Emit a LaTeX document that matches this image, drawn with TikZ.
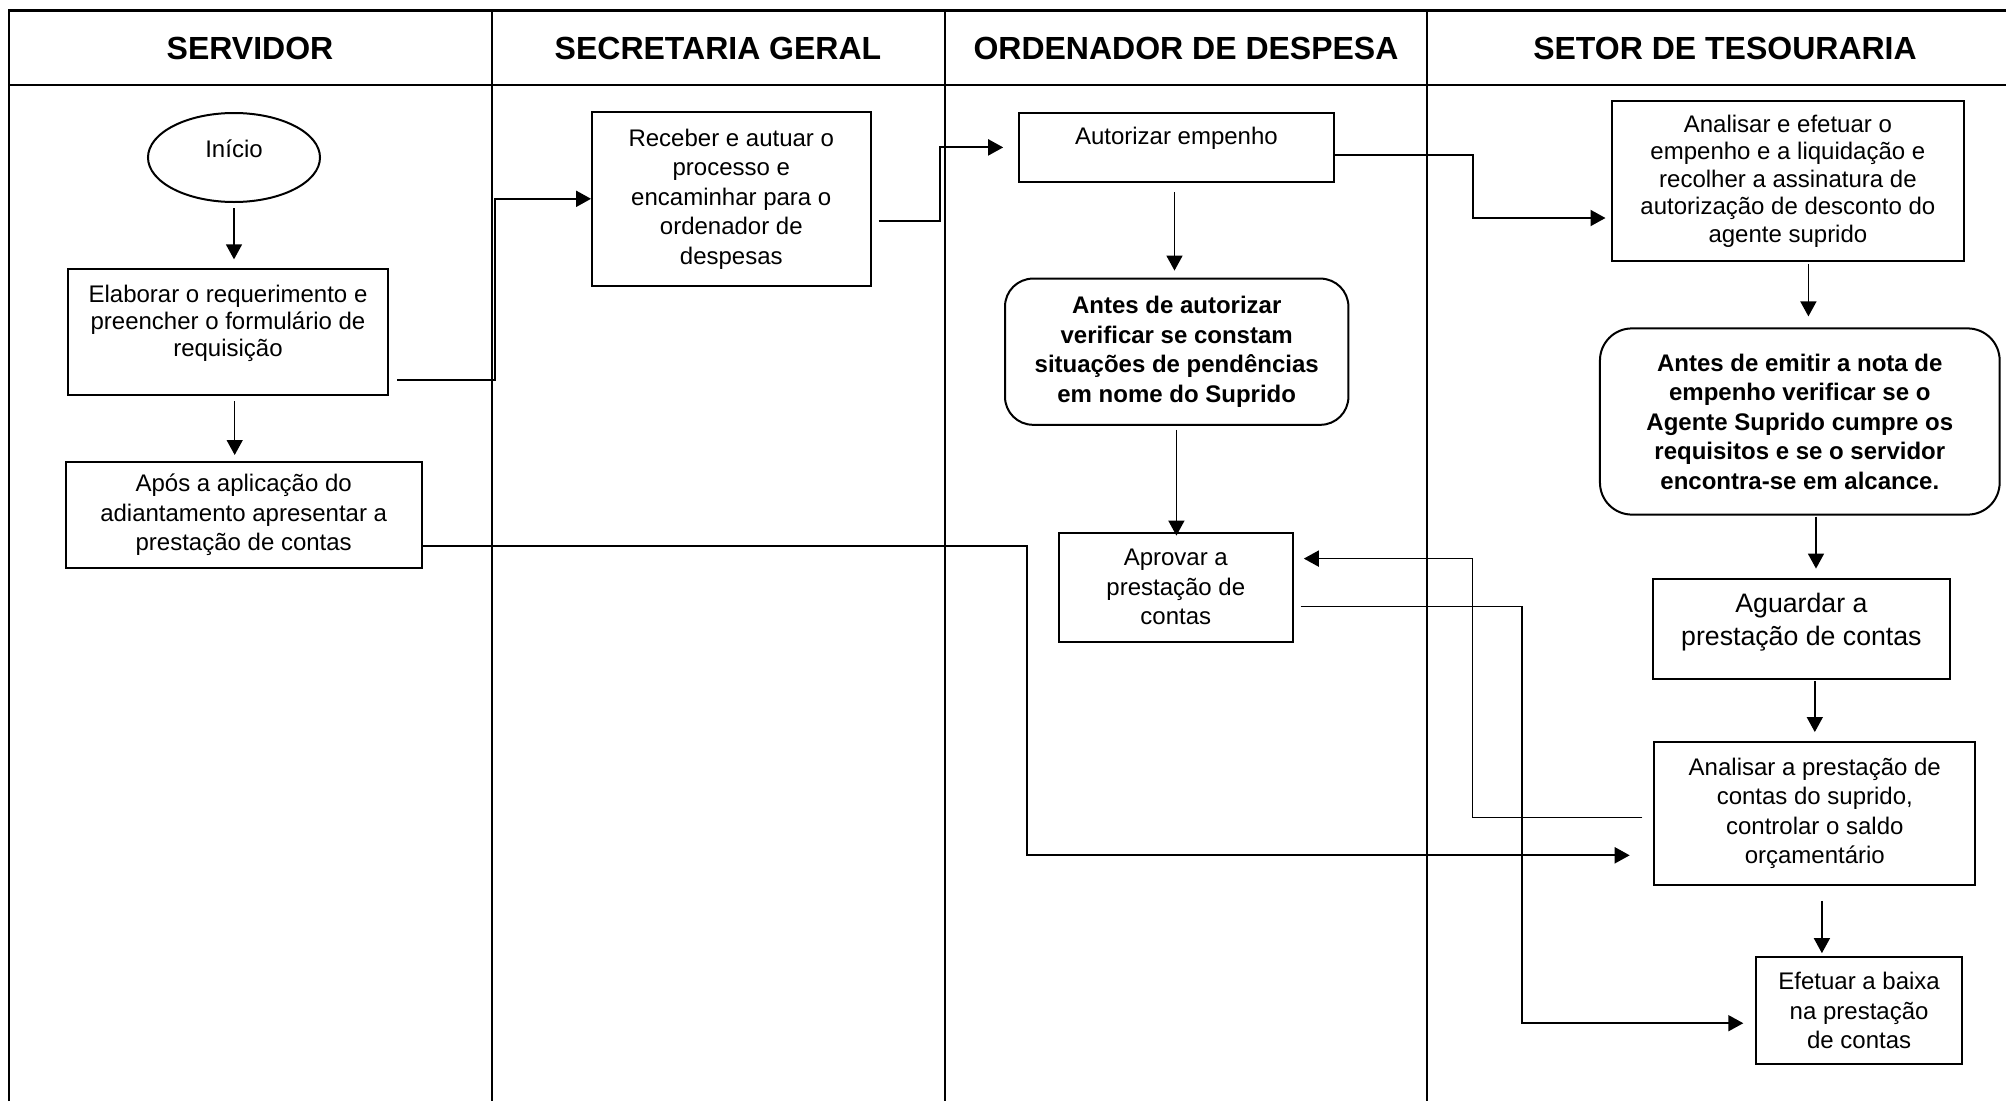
\documentclass[tikz,border=0pt]{standalone}
\usepackage{fontspec}
\setmainfont{Liberation Sans}
\usetikzlibrary{arrows.meta,shapes.geometric}
\tikzset{
  box/.style={draw, line width=2pt, rectangle, inner sep=0pt},
  rbox/.style={box, rounded corners=28pt},
  txt/.style={align=center, font=\fontsize{24}{29.5}\selectfont},
  btxt/.style={align=center, font=\bfseries\fontsize{24}{29.5}\selectfont},
  hdr/.style={font=\bfseries\fontsize{32}{38}\selectfont},
  arr/.style={line width=2pt, -{Triangle[length=15pt,width=16pt]}},
  varr/.style={arr, line width=1.5pt},
  laneline/.style={line width=2pt},
  frameline/.style={line width=2.6pt}
}
\begin{document}
\begin{tikzpicture}[x=1pt,y=-1pt]
\useasboundingbox (0,0) rectangle (2006,1101);
% frame and lanes
\draw[frameline] (9,1101) -- (9,10.7) -- (2006,10.7);
\draw[frameline] (9,85) -- (2006,85);
\foreach \xx in {492,944.5,1427} \draw[laneline] (\xx,10.7) -- (\xx,1101);
% headers
\node[hdr] (h1) at (250,48) {SERVIDOR};
\node[hdr] (h2) at (718,48) {SECRETARIA GERAL};
\node[hdr] (h3) at (1186,48) {ORDENADOR DE DESPESA};
\node[hdr] (h4) at (1725,48) {SETOR DE TESOURARIA};
% SERVIDOR
\node[draw, ellipse, line width=2pt, inner sep=0pt, minimum width=172pt, minimum height=89pt] (inicio) at (234,157.5) {};
\node[txt] (inicio-t) at ([yshift=9pt]inicio.center) {Início};
\node[box, minimum width=320.8pt, minimum height=125.9pt] (elab) at (228,332.3) {};
\node[align=center, font=\fontsize{24}{27}\selectfont] (elab-t) at ([yshift=9pt]elab.center) {Elaborar o requerimento e\\preencher o formulário de\\requisição};
\node[box, txt, minimum width=355.9pt, minimum height=106pt] (apos) at (243.7,515) {Após a aplicação do\\adiantamento apresentar a\\prestação de contas};
% SECRETARIA GERAL
\node[box, txt, minimum width=278.5pt, minimum height=173.5pt] (receber) at (731.3,198.8) {Receber e autuar o\\processo e\\encaminhar para o\\ordenador de\\despesas};
% ORDENADOR DE DESPESA
\node[box, minimum width=314.4pt, minimum height=68.9pt] (autorizar) at (1176.4,147.4) {};
\node[txt] (autorizar-t) at ([yshift=9.4pt]autorizar.center) {Autorizar empenho};
\node[rbox, btxt, minimum width=343.4pt, minimum height=146.2pt] (antesaut) at (1176.7,351.7) {Antes de autorizar\\verificar se constam\\situações de pendências\\em nome do Suprido};
\node[box, txt, minimum width=233.6pt, minimum height=109.2pt] (aprovar) at (1175.8,587.2) {Aprovar a\\prestação de\\contas};
% SETOR DE TESOURARIA
\node[box, align=center, font=\fontsize{24}{27.5}\selectfont, minimum width=352.8pt, minimum height=160.8pt] (analisar1) at (1787.9,181) {Analisar e efetuar o\\empenho e a liquidação e\\recolher a assinatura de\\autorização de desconto do\\agente suprido};
\node[rbox, btxt, rounded corners=32pt, minimum width=399.7pt, minimum height=186.2pt] (antesemit) at (1799.8,421.5) {Antes de emitir a nota de\\empenho verificar se o\\Agente Suprido cumpre os\\requisitos e se o servidor\\encontra-se em alcance.};
\node[box, minimum width=296.4pt, minimum height=100.4pt] (aguardar) at (1801.4,628.8) {};
\node[align=center, font=\fontsize{26.7}{33}\selectfont] (aguardar-t) at ([yshift=7pt]aguardar.center) {Aguardar a\\prestação de contas};
\node[box, txt, minimum width=320.8pt, minimum height=143.7pt] (analisar2) at (1814.8,813.4) {Analisar a prestação de\\contas do suprido,\\controlar o saldo\\orçamentário};
\node[box, txt, minimum width=206.6pt, minimum height=107.3pt] (efetuar) at (1859.1,1010.5) {Efetuar a baixa\\na prestação\\de contas};
% connectors
\draw[varr, shorten <=5pt, shorten >=9pt] (inicio.south) -- (inicio.south |- elab.north);
\draw[varr, shorten <=5pt, shorten >=6pt] (234.7,0 |- elab.south) -- (234.7,0 |- apos.north);
\draw[arr] ([shift={(8,47.3)}]elab.east) -- ++(97.3,0) |- (receber.west);
\draw[arr, shorten >=15pt] ([shift={(7,22.4)}]receber.east) -- ++(61.2,0) |- (autorizar.west);
\draw[arr, shorten >=5pt] ([yshift=-7.6pt]autorizar.east) -- ++(138,0) |- ([yshift=-37pt]analisar1.west);
\draw[varr, shorten <=9.6pt, shorten >=7pt] (1174.5,0 |- autorizar.south) -- (1174.5,0 |- antesaut.north);
\draw[varr, shorten <=4pt, shorten >=-4pt] (1176.4,0 |- antesaut.south) -- (1176.4,0 |- aprovar.north);
\draw[varr, shorten <=2pt, shorten >=11pt] (1808.4,0 |- analisar1.south) -- (1808.4,0 |- antesemit.north);
\draw[varr, shorten <=1pt, shorten >=9pt] (1816,0 |- antesemit.south) -- (1816,0 |- aguardar.north);
\draw[varr, shorten <=1pt, shorten >=8.5pt] (1814.8,0 |- aguardar.south) -- (1814.8,0 |- analisar2.north);
\draw[varr, shorten <=14.6pt, shorten >=2.7pt] (1821.9,0 |- analisar2.south) -- (1821.9,0 |- efetuar.north);
\draw[arr, line width=1.7pt] ([shift={(-11,4)}]analisar2.west) -- ++(-170,0) |- ([shift={(10.2,-28.6)}]aprovar.east);
\draw[arr, line width=1.7pt] ([shift={(7,19.4)}]aprovar.east) -- ++(221.4,0) |- ([shift={(-11.5,12.7)}]efetuar.west);
\draw[arr] ([yshift=-31pt]apos.east) -- ++(604.1,0) |- ([shift={(-23.7,41.9)}]analisar2.west);
\end{tikzpicture}
\end{document}
